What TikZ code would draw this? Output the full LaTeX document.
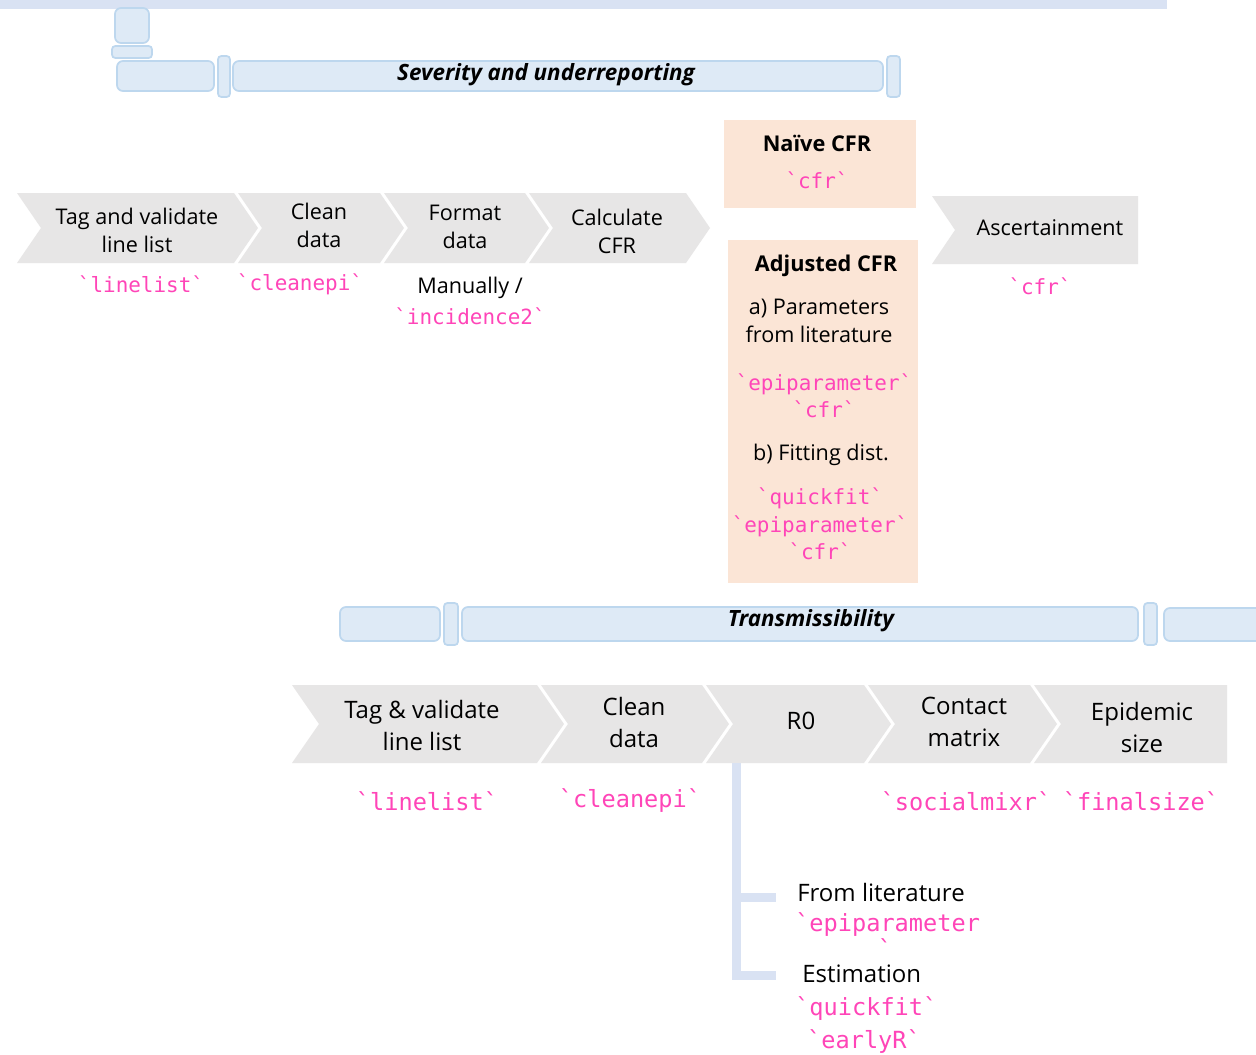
\documentclass[tikz,border=0pt]{standalone}
\usepackage{fontspec}
\setmainfont{Open Sans}
\setmonofont{DejaVu Sans Mono}
\definecolor{chevgray}{HTML}{E7E6E6}
\definecolor{peachbg}{HTML}{FBE5D6}
\definecolor{boxblue}{HTML}{DEEAF6}
\definecolor{boxedge}{HTML}{BDD7EE}
\definecolor{barblue}{HTML}{D9E2F3}
\definecolor{codepink}{HTML}{FF45B8}
\newcommand{\mychev}[5]{\fill[chevgray] (#1,#3) -- (#2,#3) -- ({#2+#5},{(#3+#4)/2}) -- (#2,#4) -- (#1,#4) -- ({#1+#5},{(#3+#4)/2}) -- cycle;}
\newcommand{\mychevflat}[5]{\fill[chevgray] (#1,#3) -- (#2,#3) -- (#2,#4) -- (#1,#4) -- ({#1+#5},{(#3+#4)/2}) -- cycle;}
\newcommand{\bq}{\symbol{96}}
\begin{document}
\begin{tikzpicture}[x=0.75pt,y=-0.75pt,
  lbl/.style={font=\fontsize{16.2}{21}\selectfont, align=center, text=black, inner sep=0pt},
  lblbig/.style={font=\fontsize{18}{24}\selectfont, align=center, text=black, inner sep=0pt},
  blbl/.style={font=\bfseries\fontsize{16.3}{21}\selectfont, align=center, text=black, inner sep=0pt},
  code/.style={font=\ttfamily\fontsize{15.7}{20.5}\selectfont, align=center, text=codepink, inner sep=0pt},
  codebig/.style={font=\ttfamily\fontsize{17.7}{24}\selectfont, align=center, text=codepink, inner sep=0pt},
  bartitle/.style={font=\bfseries\itshape\fontsize{16.8}{18}\selectfont, text=black, inner sep=0pt},
  bluebox/.style={fill=boxblue, draw=boxedge, line width=1.3pt, rounded corners=4.5pt},
  bluesmall/.style={fill=boxblue, draw=boxedge, line width=1.3pt, rounded corners=2.5pt},
  tree/.style={draw=barblue, line width=6.75pt, line cap=butt, line join=miter}]
\clip (0,0) rectangle (1256,1054);
\fill[white] (0,0) rectangle (1256,1054);

% ---------- top header ----------
\fill[barblue] (0,0) rectangle (1167,9);
\draw[bluebox] (115,8) rectangle (149,43);
\draw[bluesmall] (112,46) rectangle (152,58);
\draw[bluebox] (117,61) rectangle (214,91);
\draw[bluesmall] (218,56) rectangle (230,97);
\draw[bluebox] (233,61) rectangle (883,91);
\draw[bluesmall] (887,56) rectangle (900,97);
\node[bartitle] (sev) at (546,75) {Severity and underreporting};

% ---------- severity chevrons ----------
\mychev{17}{234}{193}{263}{24}
\mychev{238}{380}{193}{263}{24}
\mychev{384}{525}{193}{263}{24}
\mychev{529}{686}{193}{263}{24}
\mychevflat{932}{1138}{196}{264}{23}
\node[lbl] (tag1) at (137,230) {Tag and validate\\line list};
\node[lbl] (clean1) at (319,225) {Clean\\data};
\node[lbl] (format1) at (465,227) {Format\\data};
\node[lbl] (calc1) at (617,231) {Calculate\\CFR};
\node[lbl] (asc) at (1050,228) {Ascertainment};

\node[code] (ll1) at (141,284) {\bq linelist\bq};
\node[code] (ce1) at (300,284) {\bq cleanepi\bq};
\node[lbl] (man) at (470,288) {Manually /};
\node[code] (inc) at (470,316) {\bq incidence2\bq};
\node[code] (cfra) at (1040,286) {\bq cfr\bq};

% naive / adjusted boxes
\fill[peachbg] (724,120) rectangle (916,208);
\node[blbl] (naive) at (817,143) {Naïve CFR};
\node[code] (cfrn) at (817,180) {\bq cfr\bq};

\fill[peachbg] (728,240) rectangle (918,583);
\node[blbl] (adj) at (826,266) {Adjusted CFR};
\node[lbl] (parA) at (819,321) {a) Parameters\\from literature};
\node[code] (codeA) at (824,396) {\bq epiparameter\bq\\\bq cfr\bq};
\node[lbl] (fitB) at (821,455) {b) Fitting dist.};
\node[code] (codeB) at (820,524) {\bq quickfit\bq\\\bq epiparameter\bq\\\bq cfr\bq};

% ---------- transmissibility header ----------
\draw[bluebox] (340,607) rectangle (440,641);
\draw[bluesmall] (444,603) rectangle (458,645);
\draw[bluebox] (462,607) rectangle (1138,641);
\draw[bluesmall] (1144,603) rectangle (1157,645);
\draw[bluebox] (1164,608) rectangle (1275,641);
\node[bartitle] (trans) at (811,621) {Transmissibility};

% ---------- transmissibility chevrons ----------
\mychev{292}{537}{685}{763}{27}
\mychev{541}{702}{685}{763}{27}
\mychev{706}{864}{685}{763}{27}
\mychev{868}{1030}{685}{763}{27}
\mychevflat{1034}{1227}{685}{763}{27}
\node[lblbig] (tag2) at (422,725) {Tag \& validate\\line list};
\node[lblbig] (clean2) at (634,722) {Clean\\data};
\node[lblbig] (r0) at (801,721) {R0};
\node[lblbig] (contact) at (964,722) {Contact\\matrix};
\node[lblbig] (epi) at (1142,727) {Epidemic\\size};

\node[codebig] (ll2) at (427,801) {\bq linelist\bq};
\node[codebig] (ce2) at (630,801) {\bq cleanepi\bq};
\node[codebig] (smx) at (966,801) {\bq socialmixr\bq};
\node[codebig] (fsz) at (1141,801) {\bq finalsize\bq};

% ---------- R0 tree ----------
\coordinate (stem) at (736.5,763);
\coordinate (lit) at (776,897.5);
\coordinate (est) at (776,975.5);
\draw[tree] (stem) |- (est);
\draw[tree] (stem |- lit) -- (lit);
\node[lblbig, anchor=west] (fromlit) at (797,892) {From literature};
\node[codebig, anchor=west] (epip) at (795,924) {\bq epiparameter};
\node[codebig] (epiq) at (885,948) {\bq};
\node[lblbig, anchor=west] (estim) at (802,974) {Estimation};
\node[codebig, anchor=west] (qfit) at (795,1009) {\bq quickfit\bq};
\node[codebig] (early) at (864,1041) {\bq earlyR\bq};
\end{tikzpicture}
\end{document}
